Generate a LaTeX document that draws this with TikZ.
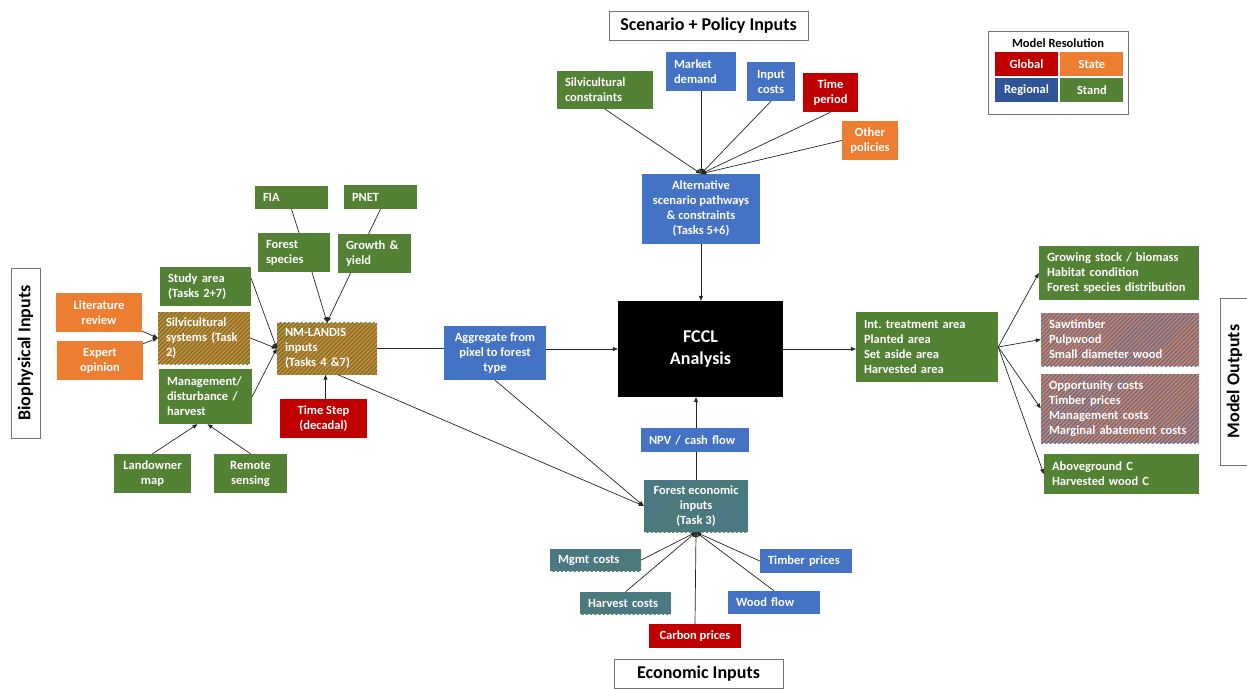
\documentclass[tikz,border=0pt]{standalone}
\usepackage{fontspec}
\setmainfont{Carlito}
\usepackage{xcolor}
\usepackage{tikz}
\usetikzlibrary{positioning,arrows.meta,patterns.meta}

\definecolor{standgrn}{HTML}{548235}
\definecolor{stateorg}{HTML}{ED7D31}
\definecolor{globred}{HTML}{C00000}
\definecolor{regblu}{HTML}{4472C4}
\definecolor{legblu}{HTML}{2F5597}

\begin{document}
\begin{tikzpicture}[x=1pt, y=-1pt, font=\fontsize{12.5}{15}\selectfont\bfseries,
  box/.style={inner xsep=8pt, inner ysep=2pt, text=white, align=center},
  grn/.style={box, fill=standgrn},
  blu/.style={box, fill=regblu},
  org/.style={box, fill=stateorg},
  red/.style={box, fill=globred},
  hog/.style={box, fill=stateorg, postaction={pattern={Lines[angle=45,distance=3pt,line width=1.3pt]}, pattern color=standgrn}},
  hob/.style={box, fill=stateorg, postaction={pattern={Lines[angle=45,distance=3pt,line width=1.3pt]}, pattern color=regblu}},
  hbg/.style={box, fill=regblu, postaction={pattern={Lines[angle=45,distance=3pt,line width=1.3pt]}, pattern color=standgrn}},
  lt/.style 2 args={text width=#1pt, minimum height=#2pt, align=left},
  ct/.style 2 args={minimum width=#1pt, minimum height=#2pt, align=center},
  title/.style={draw=black!55, line width=0.8pt, fill=white, text=black, font=\fontsize{18}{21}\selectfont\bfseries},
  conn/.style={-{Triangle[length=5pt,width=4pt]}, line width=0.7pt, draw=black!85},
  ln/.style={line width=0.7pt, draw=black!85}]
\useasboundingbox (0,0) rectangle (1247,688);
\fill[white] (0,0) rectangle (1247,688);

% scenario + policy inputs
\node[title, ct={199}{29}] (ttlscen) at (708.5,25.5) {Scenario + Policy Inputs};
\node[grn, lt={80}{38}] (silvcon) at (605,90) {Silvicultural\\constraints};
\node[blu, lt={54}{39}] (market) at (701,71.5) {Market\\demand};
\node[blu, ct={48}{39}] (inpcost) at (771,81.5) {Input\\costs};
\node[red, ct={55}{39}] (timeper) at (830.5,92.5) {Time\\period};
\node[org, ct={56}{39}] (othpol) at (870,140.5) {Other\\policies};
\node[blu, ct={118}{70}] (altscen) at (701,209) {Alternative\\scenario pathways\\\& constraints\\(Tasks 5+6)};

% legend
\node[draw=black!55, line width=0.8pt, minimum width=140pt, minimum height=83pt] (legbox) at (1058,72.5) {};
\node[text=black] (legttl) at (1058,43) {Model Resolution};
\node[red, ct={63}{24}] (lgglob) at (1026.5,64) {Global};
\node[org, ct={63}{24}, right=2pt of lgglob] (lgstate) {State};
\node[box, fill=legblu, ct={63}{24}, below=2pt of lgglob] (lgreg) {Regional};
\node[grn, ct={63}{24}, right=2pt of lgreg] (lgstand) {Stand};

% biophysical inputs
\node[title, rotate=90, ct={170}{29}] (ttlbio) at (25.5,353) {Biophysical Inputs};
\node[grn, lt={57}{23}] (fia) at (291.5,197.5) {FIA};
\node[grn, lt={57}{24}] (pnet) at (380.5,197) {PNET};
\node[grn, lt={56}{39}] (fspec) at (294,252.5) {Forest\\species};
\node[grn, lt={57}{39}] (growth) at (374.5,253.5) {Growth \&\\yield};
\node[grn, lt={75}{39}] (study) at (205.5,286.5) {Study area\\(Tasks 2+7)};
\node[org, ct={86}{39}] (litrev) at (99,312.5) {Literature\\review};
\node[org, ct={86}{39}] (expert) at (100,360.5) {Expert\\opinion};
\node[hog, lt={76}{52}] (silvsys) at (204,338) {Silvicultural\\systems (Task\\2)};
\node[grn, lt={77}{55}] (mgmt) at (205.5,396.5) {Management/\\disturbance /\\harvest};
\node[hog, lt={84}{52}] (nmlandis) at (327,348.5) {NM-LANDIS\\inputs\\(Tasks 4 \&7)};
\node[red, ct={87}{39}] (tstep) at (323.5,418.5) {Time Step\\(decadal)};
\node[grn, ct={77}{39}] (landown) at (152.5,473.5) {Landowner\\map};
\node[grn, ct={73}{39}] (remote) at (250.5,473.5) {Remote\\sensing};

% analysis
\node[blu, ct={102}{54}] (aggr) at (495,353) {Aggregate from\\pixel to forest\\type};
\node[fill=black, text=white, align=center, ct={165}{96}, font=\fontsize{18}{22}\selectfont\bfseries] (fccl) at (700.5,349) {FCCL\\Analysis};

% economic inputs
\node[blu, lt={92}{24}] (npv) at (695,440) {NPV / cash flow};
\node[hbg, ct={104}{52}] (feco) at (696,506) {Forest economic\\inputs\\(Task 3)};
\node[hbg, lt={75}{22}] (mgmtc) at (595.5,560) {Mgmt costs};
\node[hbg, lt={75}{22}] (harvc) at (625.5,603) {Harvest costs};
\node[red, ct={92}{24}] (carbon) at (695,636) {Carbon prices};
\node[blu, lt={76}{23}] (woodf) at (774,602.5) {Wood flow};
\node[blu, lt={76}{24}] (timberp) at (806,561) {Timber prices};
\node[title, ct={169}{29}] (ttleco) at (698.5,673.5) {Economic Inputs};

% model outputs
\node[grn, lt={126}{70}] (treat) at (927,347) {Int.\ treatment area\\Planted area\\Set aside area\\Harvested area};
\node[grn, lt={144}{54}] (grow) at (1119,273) {Growing stock / biomass\\Habitat condition\\Forest species distribution};
\node[hob, lt={142}{53}] (saw) at (1120,339.5) {Sawtimber\\Pulpwood\\Small diameter wood};
\node[hob, lt={142}{69}] (opp) at (1120,408.5) {Opportunity costs\\Timber prices\\Management costs\\Marginal abatement costs};
\node[grn, lt={139}{40}] (abc) at (1121.5,474) {Aboveground C\\Harvested wood C};
\node[title, rotate=90, ct={167}{29}] (ttlout) at (1234.5,381.5) {Model Outputs};

\draw[conn] (silvcon.south) -- (altscen.north);
\draw[conn] (market.south) -- (altscen.north);
\draw[conn] (inpcost.south) -- (altscen.north);
\draw[conn] (timeper.south) -- (altscen.north);
\draw[conn] (othpol.west) -- (altscen.north);
\draw[conn] (altscen.south) -- (altscen.south |- fccl.north);

\draw[conn] (litrev) -- (silvsys.west);
\draw[conn] (expert) -- (silvsys.west);
\draw[conn] ([yshift=8pt]study.east) -- (nmlandis.west);
\draw[conn] (silvsys.east) -- (nmlandis.west);
\draw[conn] (mgmt.east) -- (nmlandis.west);
\draw[ln] (fia.south) -- ([xshift=5pt]fspec.north);
\draw[ln] (pnet.south) -- ([xshift=-6pt]growth.north);
\draw[conn] ([xshift=18pt]fspec.south) -- (nmlandis.north);
\draw[conn] ([xshift=-24pt]growth.south) -- (nmlandis.north);
\draw[conn] ([xshift=2pt]tstep.north) -- ([xshift=2pt]tstep.north |- nmlandis.south);
\draw[conn] (landown.north) -- ([xshift=-8pt]mgmt.south);
\draw[conn] (remote.north) -- ([xshift=2pt]mgmt.south);

\draw[ln] (nmlandis.east) -- (nmlandis.east -| aggr.west);
\draw[conn] (aggr.east |- fccl.west) -- (fccl.west);
\draw[conn] ([xshift=11pt]nmlandis.south) -- (feco.west);
\draw[conn] (aggr.south) -- (feco.west);
\draw[ln] (feco.north) -- (feco.north |- npv.south);
\draw[conn] (feco.north |- npv.north) -- (feco.north |- fccl.south);

\draw[conn] (mgmtc.east) -- (feco.south);
\draw[conn] (harvc.north) -- (feco.south);
\draw[conn] (carbon.north) -- (feco.south);
\draw[conn] (woodf.north) -- (feco.south);
\draw[conn] (timberp.west) -- (feco.south);

\draw[conn] (fccl.east) -- (fccl.east -| treat.west);
\draw[conn] (treat.east) -- (grow.west);
\draw[conn] (treat.east) -- (saw.west);
\draw[conn] (treat.east) -- (opp.west);
\draw[conn] (treat.east) -- (abc.west);
\end{tikzpicture}
\end{document}
